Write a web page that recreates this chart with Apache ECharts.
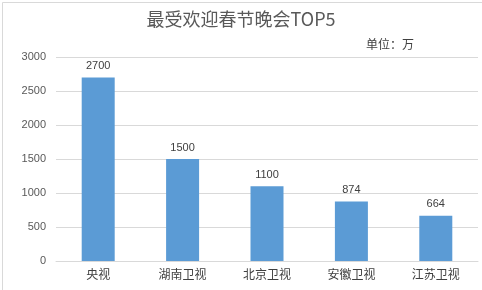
<!DOCTYPE html>
<html><head><meta charset="utf-8">
<script src="https://cdn.jsdelivr.net/npm/echarts@6/dist/echarts.min.js"></script>
<style>html,body{margin:0;padding:0;background:#fff}#c{width:482px;height:290px}</style>
</head><body><div id="c"></div>
<script>
const categories = ['央视','湖南卫视','北京卫视','安徽卫视','江苏卫视'];
const values = [2700,1500,1100,874,664];
const yTicks = [0,500,1000,1500,2000,2500,3000];
const chart = echarts.init(document.getElementById('c'));
chart.setOption({
  animation:false,
  backgroundColor:'#fff',
  graphic:[{type:'rect',left:0,top:0,shape:{x:0.5,y:0.5,width:481,height:289},style:{fill:'none',stroke:'#d9d9d9',lineWidth:1},silent:true}],
  title:[{text:'最受欢迎春节晚会TOP5',left:'center',top:5,textStyle:{fontFamily:'Noto Sans CJK SC',fontSize:18,fontWeight:'normal',color:'#595959'}},
         {text:'单位：万',left:361,top:33,textStyle:{fontFamily:'Noto Sans CJK SC',fontSize:12,fontWeight:'normal',color:'#404040'}}],
  grid:{left:56,right:4,top:57,bottom:29,containLabel:false},
  xAxis:{type:'category',data:categories,axisLine:{lineStyle:{color:'#d9d9d9'}},axisTick:{show:false},
    axisLabel:{fontFamily:'Noto Sans CJK SC',fontSize:12,color:'#404040',margin:7}},
  yAxis:{type:'value',min:yTicks[0],max:yTicks[yTicks.length-1],interval:500,axisLine:{show:false},axisTick:{show:false},
    splitLine:{lineStyle:{color:'#d9d9d9'}},
    axisLabel:{fontFamily:'Liberation Sans',fontSize:11,color:'#595959',margin:10,formatter:function(v){return String(v);}}},
  series:[{type:'bar',data:values,barWidth:33,itemStyle:{color:'#5b9bd5'},
    label:{show:true,position:'top',distance:6,fontFamily:'Liberation Sans',fontSize:11,color:'#404040'}}]
});
</script></body></html>
